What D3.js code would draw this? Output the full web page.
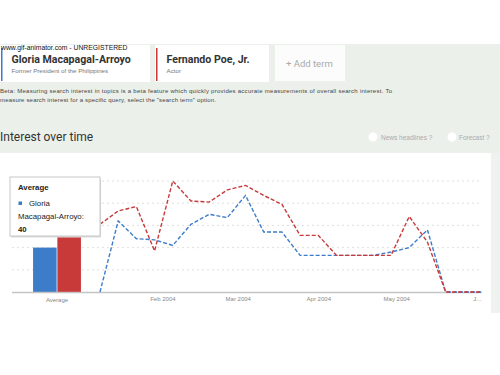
<!DOCTYPE html>
<html>
<head>
<meta charset="utf-8">
<script src="https://cdn.jsdelivr.net/npm/d3@7"></script>
<style>
  body { margin: 0; background: #fff; }
  svg { display: block; font-family: "Liberation Sans", Arial, sans-serif; }
</style>
</head>
<body>
<div id="chart"></div>
<script>
// weekly points, Google Trends style
const weeks = [
  "2004-01-08", "2004-01-15", "2004-01-22", "2004-01-29", "2004-02-05", "2004-02-12",
  "2004-02-19", "2004-02-26", "2004-03-04", "2004-03-11", "2004-03-18", "2004-03-25",
  "2004-04-01", "2004-04-08", "2004-04-15", "2004-04-22", "2004-04-29", "2004-05-06",
  "2004-05-13", "2004-05-20", "2004-05-27", "2004-06-03"
];
const seriesNames = ["Gloria Macapagal-Arroyo", "Fernando Poe, Jr."];
const arroyoValues = [0, 64, 48, 47, 42, 61, 70, 67, 87, 54, 54, 33, 33, 33, 33, 33, 36, 40, 56, 0, 0, 0];
const poeValues = [61, 73, 77, 37, 100, 82, 81, 92, 96, 87, 79, 51, 51, 33, 33, 33, 33, 68, 45, 0, 0, 0];
const averages = [40, 50];
const monthTicks = ["2004-02-01", "2004-03-01", "2004-04-01", "2004-05-01", "2004-06-01"];
const monthLabels = ["Feb 2004", "Mar 2004", "Apr 2004", "May 2004", "J..."];
const gridValues = [20, 40, 60, 80, 100];
const colors = ["#3d7cc9", "#c8393a"];

const parse = d3.timeParse("%Y-%m-%d");
const W = 500, H = 375;

const svg = d3.select("#chart").append("svg")
  .attr("width", W).attr("height", H);

// page background (the dithered grey-green of the screenshot)
svg.append("rect").attr("width", W).attr("height", H).attr("fill", "#fff");
svg.append("rect").attr("x", 0).attr("y", 44).attr("width", W).attr("height", 109)
  .attr("fill", "#ecf0ea");
svg.append("rect").attr("x", 491).attr("y", 153).attr("width", 9).attr("height", 160)
  .attr("fill", "#eff2ee");

// term cards
const cards = [
  { x: 0, w: 150, title: seriesNames[0], sub: "Former President of the Philippines", color: colors[0] },
  { x: 155, w: 114, title: seriesNames[1], sub: "Actor", color: colors[1] }
];
cards.forEach((c) => {
  svg.append("rect").attr("x", c.x).attr("y", 45).attr("width", c.w).attr("height", 37).attr("fill", "#fff");
  svg.append("rect").attr("x", c.x + 1).attr("y", 48).attr("width", 1.5).attr("height", 33).attr("fill", c.color);
  svg.append("text").attr("x", c.x + 11.5).attr("y", 63)
    .attr("font-family", "Roboto, sans-serif").attr("font-weight", "bold")
    .attr("font-size", 10.6).attr("fill", "#333").text(c.title);
  svg.append("text").attr("x", c.x + 11.5).attr("y", 72.5)
    .attr("font-size", 6.2).attr("fill", "#777").text(c.sub);
});
svg.append("rect").attr("x", 275).attr("y", 45).attr("width", 70).attr("height", 36).attr("fill", "#fbfcfb");
svg.append("text").attr("x", 286).attr("y", 67)
  .attr("font-family", "Roboto, sans-serif").attr("font-size", 9.5).attr("fill", "#aaa").text("+ Add term");

// watermark
svg.append("text").attr("x", 1).attr("y", 50).attr("font-size", 6.8).attr("fill", "#111")
  .text("www.gif-animator.com - UNREGISTERED");

// beta note
svg.append("text").attr("x", 0).attr("y", 93).attr("font-size", 6).attr("fill", "#444")
  .attr("textLength", 392)
  .text("Beta: Measuring search interest in topics is a beta feature which quickly provides accurate measurements of overall search interest. To");
svg.append("text").attr("x", 0).attr("y", 102).attr("font-size", 6).attr("fill", "#444")
  .attr("textLength", 216)
  .text("measure search interest for a specific query, select the \"search term\" option.");

// section header
svg.append("text").attr("x", 0).attr("y", 141)
  .attr("font-family", "Roboto, sans-serif").attr("font-size", 12).attr("fill", "#333")
  .text("Interest over time");
[{ cx: 373, x: 381, t: "News headlines  ?" }, { cx: 452, x: 459, t: "Forecast  ?" }].forEach((o) => {
  svg.append("circle").attr("cx", o.cx).attr("cy", 137).attr("r", 4.5).attr("fill", "#fff");
  svg.append("text").attr("x", o.x).attr("y", 139.5).attr("font-size", 6.5).attr("fill", "#aaa").text(o.t);
});

// chart panel
svg.append("rect").attr("x", 0).attr("y", 153).attr("width", 491).attr("height", 222).attr("fill", "#fff");

const y = d3.scaleLinear().domain([0, 100]).range([292, 181]);
const x = d3.scaleTime()
  .domain([parse(weeks[0]), parse(weeks[weeks.length - 1])])
  .range([100, 482]);

const x0 = d3.scaleBand().domain(["Average"]).range([20, 94]).paddingOuter(0.25);
const x1 = d3.scaleBand().domain(seriesNames).range([0, x0.bandwidth()]).padding(0.03);

// gridlines
svg.append("g")
  .selectAll("line")
  .data(gridValues)
  .enter()
  .append("line")
  .attr("x1", 12).attr("x2", 482)
  .attr("y1", (d) => y(d)).attr("y2", (d) => y(d))
  .attr("stroke", "#d8d8d8").attr("stroke-width", 0.8)
  .attr("stroke-dasharray", "2,3");

// average bars
svg.append("g")
  .attr("transform", `translate(${x0("Average")},0)`)
  .selectAll("rect")
  .data(averages)
  .enter()
  .append("rect")
  .attr("x", (d, i) => x1(seriesNames[i]))
  .attr("y", (d) => y(d))
  .attr("width", x1.bandwidth())
  .attr("height", (d) => y(0) - y(d))
  .attr("fill", (d, i) => colors[i]);

// baseline
svg.append("line").attr("x1", 12).attr("x2", 482).attr("y1", y(0) + 0.5).attr("y2", y(0) + 0.5)
  .attr("stroke", "#c4c4c4").attr("stroke-width", 1.5);

// x axis labels
const xAxis = svg.append("g")
  .attr("transform", `translate(0,${y(0) + 1})`)
  .call(d3.axisBottom(x)
    .tickValues(monthTicks.map(parse))
    .tickSize(0)
    .tickPadding(4)
    .tickFormat((d, i) => monthLabels[i]));
xAxis.select(".domain").remove();
xAxis.selectAll("text").attr("font-size", 6).attr("fill", "#888")
  .attr("font-family", "\"Liberation Sans\", Arial, sans-serif");

svg.append("text").attr("x", x0("Average") + x0.bandwidth() / 2).attr("y", y(0) + 10)
  .attr("text-anchor", "middle").attr("font-size", 6).attr("fill", "#888").text("Average");

// lines
const line = d3.line()
  .x((d) => x(parse(d.date)))
  .y((d) => y(d.value));

[arroyoValues, poeValues].forEach((vals, i) => {
  svg.append("path")
    .datum(vals.map((v, j) => ({ date: weeks[j], value: v })))
    .attr("d", line)
    .attr("fill", "none")
    .attr("stroke", colors[i])
    .attr("stroke-width", 1.4)
    .attr("stroke-dasharray", "4,2");
});

// hover card over the average bars
const tip = svg.append("g").attr("transform", "translate(10,177)");
tip.append("rect").attr("x", 1).attr("y", 1.5).attr("width", 90).attr("height", 59)
  .attr("fill", "#ddd");
tip.append("rect").attr("width", 90).attr("height", 59)
  .attr("fill", "#fff").attr("stroke", "#bbb").attr("stroke-width", 0.8);
tip.append("text").attr("x", 8).attr("y", 13).attr("font-size", 7.8).attr("font-weight", "bold")
  .attr("fill", "#222").text("Average");
tip.append("rect").attr("x", 8.5).attr("y", 24.5).attr("width", 3.5).attr("height", 3.5).attr("fill", colors[0]);
tip.append("text").attr("x", 19).attr("y", 29).attr("font-size", 7.8).attr("fill", "#222").text("Gloria");
tip.append("text").attr("x", 8).attr("y", 42).attr("font-size", 7.8).attr("fill", "#222").text("Macapagal-Arroyo:");
tip.append("text").attr("x", 8).attr("y", 55).attr("font-size", 7.8).attr("font-weight", "bold")
  .attr("fill", "#222").text(averages[0]);
</script>
</body>
</html>
